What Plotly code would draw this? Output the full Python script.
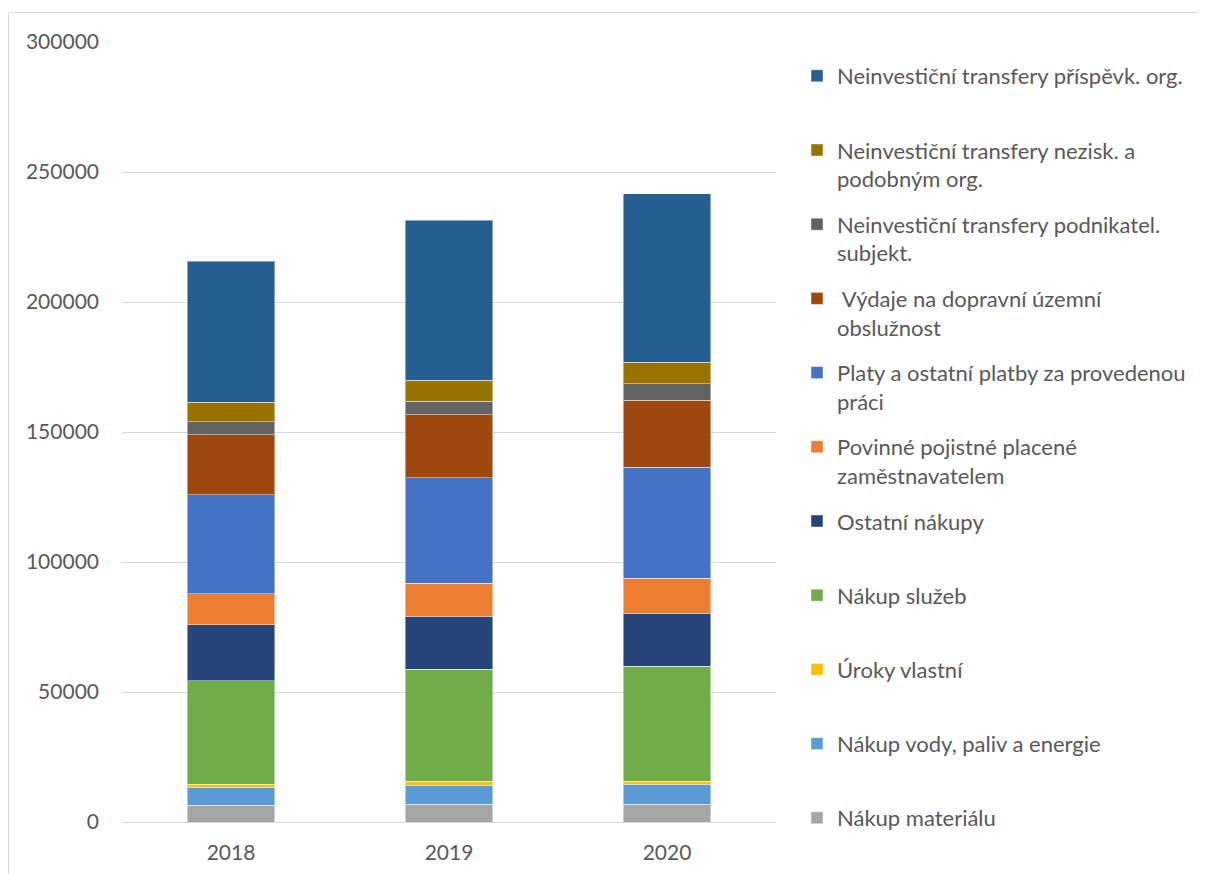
import plotly.graph_objects as go

years = ["2018", "2019", "2020"]

# series listed bottom -> top of the stack
nakup_materialu = [6400, 6800, 6900]
nakup_vody = [7000, 7300, 7600]
uroky_vlastni = [1200, 1500, 1200]
nakup_sluzeb = [39800, 43100, 44200]
ostatni_nakupy = [21500, 20500, 20300]
povinne_pojistne = [11900, 12600, 13500]
platy = [38100, 40700, 42700]
vydaje_doprava = [23100, 24200, 25800]
transfery_podnikatel = [5000, 5200, 6400]
transfery_nezisk = [7500, 8000, 8200]
transfery_prispevk = [54100, 61500, 64800]

names = [
    "Nákup materiálu<br>\u00a0",
    "Nákup vody, paliv a energie<br>\u00a0",
    "Úroky vlastní<br>\u00a0",
    "Nákup služeb<br>\u00a0",
    "Ostatní nákupy<br>\u00a0",
    "Povinné pojistné placené<br>zaměstnavatelem",
    "Platy a ostatní platby za provedenou<br>práci",
    "\u00a0Výdaje na dopravní územní<br>obslužnost",
    "Neinvestiční transfery podnikatel.<br>subjekt.",
    "Neinvestiční transfery nezisk. a<br>podobným org.",
    "Neinvestiční transfery příspěvk. org.<br>\u00a0",
]
series = [nakup_materialu, nakup_vody, uroky_vlastni, nakup_sluzeb, ostatni_nakupy,
          povinne_pojistne, platy, vydaje_doprava, transfery_podnikatel,
          transfery_nezisk, transfery_prispevk]
colors = ["#A5A5A5", "#5B9BD5", "#FFC000", "#70AD47", "#264478", "#ED7D31",
          "#4472C4", "#9E480E", "#636363", "#997300", "#255E91"]

fig = go.Figure()
n_series = len(series)
for i, (n, v, c) in enumerate(zip(names, series, colors)):
    fig.add_trace(go.Bar(
        x=years, y=v, name=n, legendgroup=f"g{i}", legendrank=100 + (n_series - i),
        marker=dict(color=c, line=dict(color="rgba(255,255,255,0.45)", width=1)),
    ))

FONT = "Lato, Open Sans, sans-serif"
W, H = 1198, 866
L, R, T, B = 114, 430, 34, 52
PW, PH = W - L - R, H - T - B

fig.update_layout(
    width=W, height=H,
    barmode="stack", bargap=0.6,
    paper_bgcolor="white", plot_bgcolor="white",
    margin=dict(l=L, r=R, t=T, b=B, autoexpand=False),
    font=dict(family=FONT, size=21, color="#595959"),
    xaxis=dict(type="category", showgrid=False, showline=False, ticks="",
               tickfont=dict(size=21, color="#595959"), ticklabelstandoff=16),
    yaxis=dict(range=[0, 300000], tickvals=[0, 50000, 100000, 150000, 200000, 250000, 300000],
               tickformat="d", showgrid=True, gridcolor="#d9d9d9", gridwidth=1.3,
               zeroline=True, zerolinecolor="#d9d9d9", zerolinewidth=1.3,
               showline=False, ticks="", tickfont=dict(size=21, color="#595959"),
               ticklabelstandoff=22),
    legend=dict(x=(789 - L) / PW, xanchor="left", yref="container", y=1 - 47 / H, yanchor="top",
                traceorder="grouped", tracegroupgap=14, valign="top", maxheight=2000,
                font=dict(size=22, color="#595959", family=FONT),
                bgcolor="rgba(0,0,0,0)", itemclick=False),
    shapes=[dict(type="rect", xref="paper", yref="paper",
                 x0=(0.5 - L) / PW, x1=(W - 0.5 - L) / PW,
                 y0=(T + PH - (H + 10)) / PH, y1=(T + PH - 4.5) / PH,
                 line=dict(color="#d9d9d9", width=1), fillcolor="rgba(0,0,0,0)", layer="below")],
)

fig.write_html("out.html")
